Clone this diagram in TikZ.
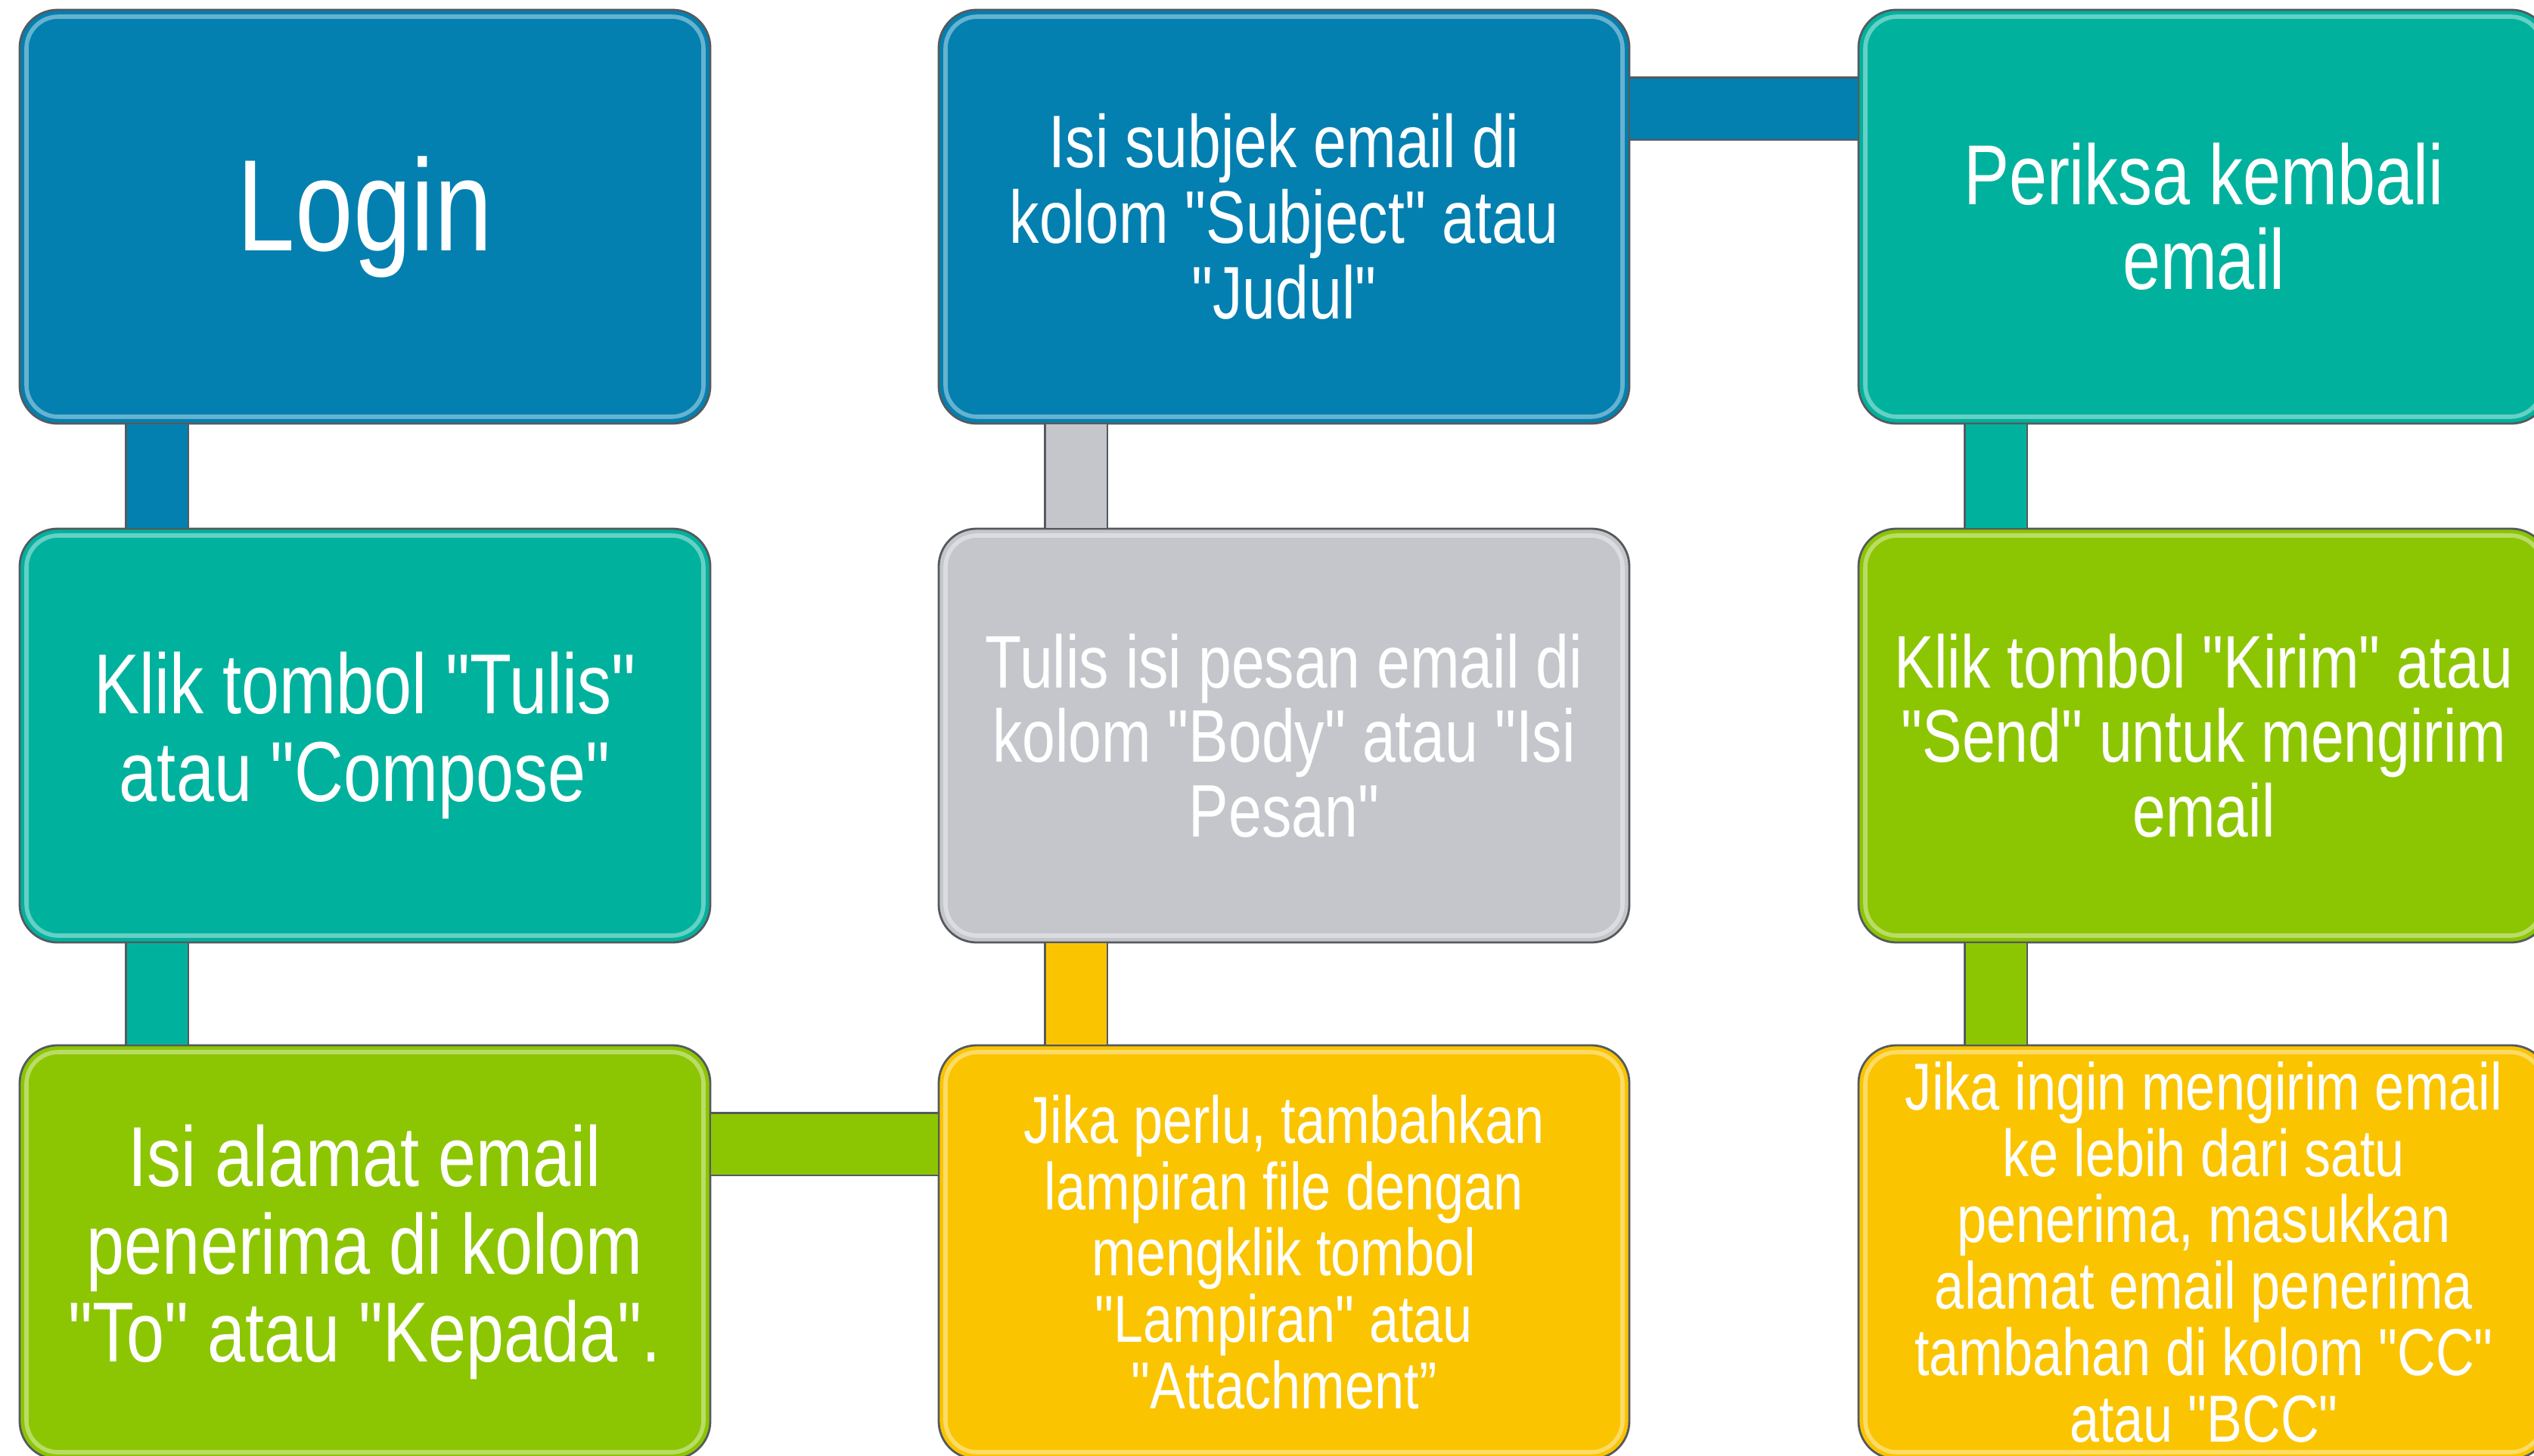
\documentclass[tikz,border=0pt]{standalone}
\usepackage{fontspec}
\setmainfont{Liberation Sans}[FakeStretch=0.8, Ligatures=TeXOff]
\definecolor{stepblue}{RGB}{3,128,176}
\definecolor{stepteal}{RGB}{0,178,157}
\definecolor{stepgreen}{RGB}{140,198,3}
\definecolor{stepgrey}{RGB}{196,198,204}
\definecolor{stepyellow}{RGB}{250,196,0}
\definecolor{edge}{RGB}{85,90,95}
\usetikzlibrary{calc}

\begin{document}
\begin{tikzpicture}[
    box/.style={draw=edge, line width=0.8pt, fill=#1, rounded corners=0.5cm,
        minimum width=9.13cm, minimum height=5.47cm, inner sep=0pt,
        text=white, align=center,
        path picture={\draw[white, opacity=0.4, line width=1.6pt, rounded corners=0.42cm]
            ([shift={(0.09,-0.09)}]path picture bounding box.north west) rectangle
            ([shift={(-0.09,0.09)}]path picture bounding box.south east);}},
    link/.style={draw=edge, line width=0.7pt, double=#1, double distance=0.8cm},
]
    \useasboundingbox (0,0) rectangle (33.5,-19.25);

    % first column
    \node[box=stepblue, font=\fontsize{49}{52}\selectfont] (login) at (4.825,-2.865) {Login};
    \node[box=stepteal, font=\fontsize{32}{33}\selectfont] (tulis) at (4.825,-9.725)
        {Klik tombol "Tulis"\\atau "Compose"};
    \node[box=stepgreen, font=\fontsize{32}{33}\selectfont] (alamat) at (4.825,-16.555)
        {Isi alamat email\\penerima di kolom\\"To" atau "Kepada".};

    % second column
    \node[box=stepyellow, font=\fontsize{25}{25}\selectfont] (lampiran) at (16.975,-16.555)
        {Jika perlu, tambahkan\\lampiran file dengan\\mengklik tombol\\"Lampiran" atau\\"Attachment”};
    \node[box=stepgrey, font=\fontsize{28}{28}\selectfont] (pesan) at (16.975,-9.725)
        {Tulis isi pesan email di\\kolom "Body" atau "Isi\\Pesan"};
    \node[box=stepblue, font=\fontsize{28}{28.5}\selectfont] (subjek) at (16.975,-2.865)
        {Isi subjek email di\\kolom "Subject" atau\\"Judul"};

    % third column
    \node[box=stepteal, font=\fontsize{32}{32}\selectfont] (periksa) at (29.135,-2.865)
        {Periksa kembali\\email};
    \node[box=stepgreen, font=\fontsize{28}{28}\selectfont] (kirim) at (29.135,-9.725)
        {Klik tombol "Kirim" atau\\"Send" untuk mengirim\\email};
    \node[box=stepyellow, font=\fontsize{25}{25}\selectfont] (cc) at (29.135,-16.555)
        {Jika ingin mengirim email\\ke lebih dari satu\\penerima, masukkan\\alamat email penerima\\tambahan di kolom "CC"\\atau "BCC"};

    % connectors
    \draw[link=stepblue] ($(login.south west)+(1.83,0)$) -- ($(tulis.north west)+(1.83,0)$);
    \draw[link=stepteal] ($(tulis.south west)+(1.83,0)$) -- ($(alamat.north west)+(1.83,0)$);
    \draw[link=stepgreen] ($(alamat.north east)+(0,-1.32)$) -- ($(lampiran.north west)+(0,-1.32)$);
    \draw[link=stepyellow] ($(lampiran.north west)+(1.83,0)$) -- ($(pesan.south west)+(1.83,0)$);
    \draw[link=stepgrey] ($(pesan.north west)+(1.83,0)$) -- ($(subjek.south west)+(1.83,0)$);
    \draw[link=stepblue] ($(subjek.north east)+(0,-1.32)$) -- ($(periksa.north west)+(0,-1.32)$);
    \draw[link=stepteal] ($(periksa.south west)+(1.83,0)$) -- ($(kirim.north west)+(1.83,0)$);
    \draw[link=stepgreen] ($(kirim.south west)+(1.83,0)$) -- ($(cc.north west)+(1.83,0)$);
\end{tikzpicture}
\end{document}
